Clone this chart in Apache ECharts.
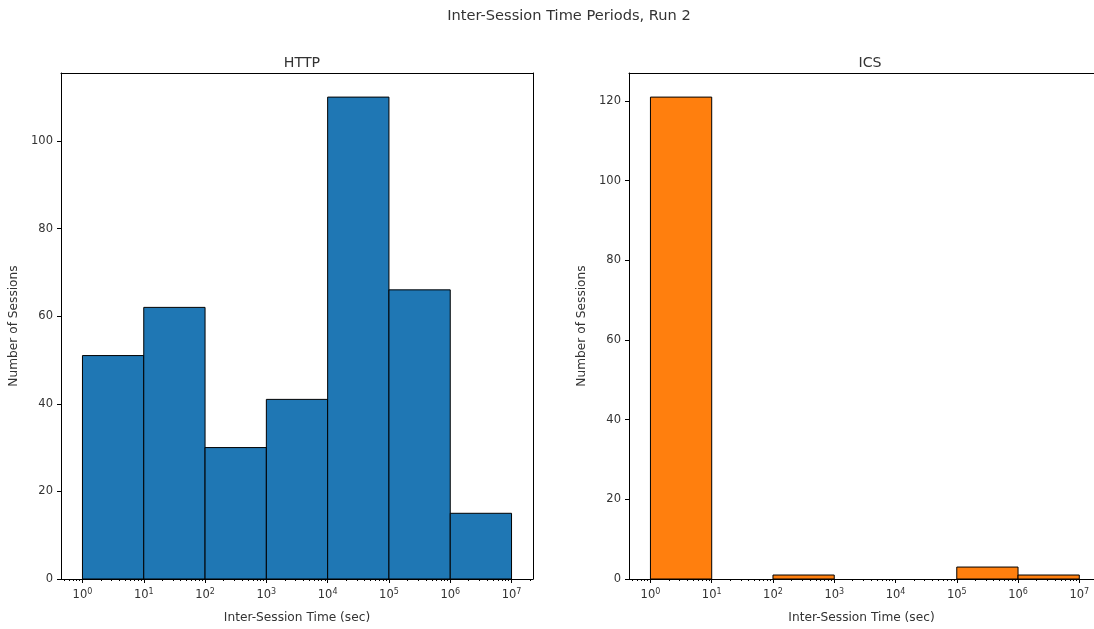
<!DOCTYPE html>
<html>
<head>
<meta charset="utf-8">
<script src="https://cdn.jsdelivr.net/npm/echarts@6/dist/echarts.min.js"></script>
<style>
html,body{margin:0;padding:0;background:#fff;}
#c{width:1094px;height:629px;}
</style>
</head>
<body>
<div id="c"></div>
<script>
// Data
const binEdges = [1, 10, 100, 1000, 10000, 100000, 1000000, 10000000];
const httpCounts = [51, 62, 30, 41, 110, 66, 15];
const icsCounts = [121, 0, 1, 0, 0, 3, 1];
const majorTickExps = [0, 1, 2, 3, 4, 5, 6, 7];
const httpYTicks = [0, 20, 40, 60, 80, 100];
const icsYTicks = [0, 20, 40, 60, 80, 100, 120];
const titleText = 'Inter-Session Time Periods, Run 2';
const panelTitles = ['HTTP', 'ICS'];
const xLabel = 'Inter-Session Time (sec)';
const yLabel = 'Number of Sessions';

const FONT = 'DejaVu Sans';
const TXT = '#333';
const xMin = -0.35;
const xMaxLeft = 7.35;
const xMaxRight = 7.24; // right panel is cut by the picture edge

function minorTicksFor(lo, hi) {
  const out = [];
  for (let n = -1; n <= 7; n++) {
    for (let k = 2; k <= 9; k++) {
      const v = Math.log10(k * Math.pow(10, n));
      if (v > lo && v < hi) out.push(v);
    }
  }
  return out;
}

function binData(counts) {
  return counts.map((c, i) => [Math.log10(binEdges[i]), Math.log10(binEdges[i + 1]), c]);
}

function renderBar(color) {
  return function (params, api) {
    const lo = api.value(0), hi = api.value(1), c = api.value(2);
    if (!c) return null;
    const p0 = api.coord([lo, 0]);
    const p1 = api.coord([hi, c]);
    return {
      type: 'rect',
      shape: { x: p0[0], y: p1[1], width: p1[0] - p0[0], height: p0[1] - p1[1] },
      style: { fill: color, stroke: '#000', lineWidth: 1 }
    };
  };
}

const grids = [
  { left: 61, top: 73, width: 472, height: 507 },
  { left: 629, top: 73, width: 465, height: 507 }
];

function xAxes(gi, xMax) {
  return [{
    type: 'value', gridIndex: gi, min: xMin, max: xMax, position: 'bottom',
    name: xLabel, nameLocation: 'middle', nameGap: 33,
    nameTextStyle: { fontFamily: FONT, fontSize: 12.2, color: TXT },
    axisLine: { show: true, onZero: false, lineStyle: { color: '#000', width: 1 } },
    axisTick: { show: true, length: 4, customValues: majorTickExps, lineStyle: { color: '#000' } },
    splitLine: { show: false },
    axisLabel: {
      customValues: majorTickExps, margin: 9,
      fontFamily: FONT, fontSize: 11.5, color: TXT,
      formatter: v => '10{sup|' + Math.round(v) + '}',
      rich: { sup: { fontFamily: FONT, fontSize: 8, color: TXT, verticalAlign: 'top', padding: [0, 0, 6, 0] } }
    }
  }, {
    type: 'value', gridIndex: gi, min: xMin, max: xMax, position: 'bottom',
    axisLine: { show: false, onZero: false },
    axisTick: { show: true, length: 2, customValues: minorTicksFor(xMin, xMax), lineStyle: { color: '#000' } },
    axisLabel: { show: false },
    splitLine: { show: false }
  }, {
    type: 'value', gridIndex: gi, min: xMin, max: xMax, position: 'top',
    axisLine: { show: true, onZero: false, lineStyle: { color: '#000', width: 1 } },
    axisTick: { show: false }, axisLabel: { show: false }, splitLine: { show: false }
  }];
}

function yAxes(gi, max, ticks, showRight) {
  return [{
    type: 'value', gridIndex: gi, min: 0, max: max, position: 'left',
    name: yLabel, nameLocation: 'middle', nameGap: 41,
    nameTextStyle: { fontFamily: FONT, fontSize: 12.2, color: TXT },
    axisLine: { show: true, onZero: false, lineStyle: { color: '#000', width: 1 } },
    axisTick: { show: true, length: 4, customValues: ticks, lineStyle: { color: '#000' } },
    axisLabel: { customValues: ticks, margin: 8, fontFamily: FONT, fontSize: 11.5, color: TXT },
    splitLine: { show: false }
  }, {
    type: 'value', gridIndex: gi, min: 0, max: max, position: 'right',
    axisLine: { show: showRight, onZero: false, lineStyle: { color: '#000', width: 1 } },
    axisTick: { show: false }, axisLabel: { show: false }, splitLine: { show: false }
  }];
}

const chart = echarts.init(document.getElementById('c'), null, { renderer: 'canvas' });
chart.setOption({
  animation: false,
  backgroundColor: '#fff',
  title: [
    { text: titleText, left: 564, top: 4, textAlign: 'center', textStyle: { fontFamily: FONT, fontSize: 14.6, fontWeight: 'normal', color: TXT } },
    { text: panelTitles[0], left: 297, top: 51, textAlign: 'center', textStyle: { fontFamily: FONT, fontSize: 14.2, fontWeight: 'normal', color: TXT } },
    { text: panelTitles[1], left: 865, top: 51, textAlign: 'center', textStyle: { fontFamily: FONT, fontSize: 14.2, fontWeight: 'normal', color: TXT } }
  ],
  grid: grids,
  xAxis: [...xAxes(0, xMaxLeft), ...xAxes(1, xMaxRight)],
  yAxis: [...yAxes(0, 115.5, httpYTicks, true), ...yAxes(1, 127.05, icsYTicks, false)],
  series: [
    { type: 'custom', name: panelTitles[0], xAxisIndex: 0, yAxisIndex: 0, renderItem: renderBar('#1f77b4'), data: binData(httpCounts), encode: { x: [0, 1], y: 2 } },
    { type: 'custom', name: panelTitles[1], xAxisIndex: 3, yAxisIndex: 2, renderItem: renderBar('#ff7f0e'), data: binData(icsCounts), encode: { x: [0, 1], y: 2 } }
  ]
});
</script>
</body>
</html>
